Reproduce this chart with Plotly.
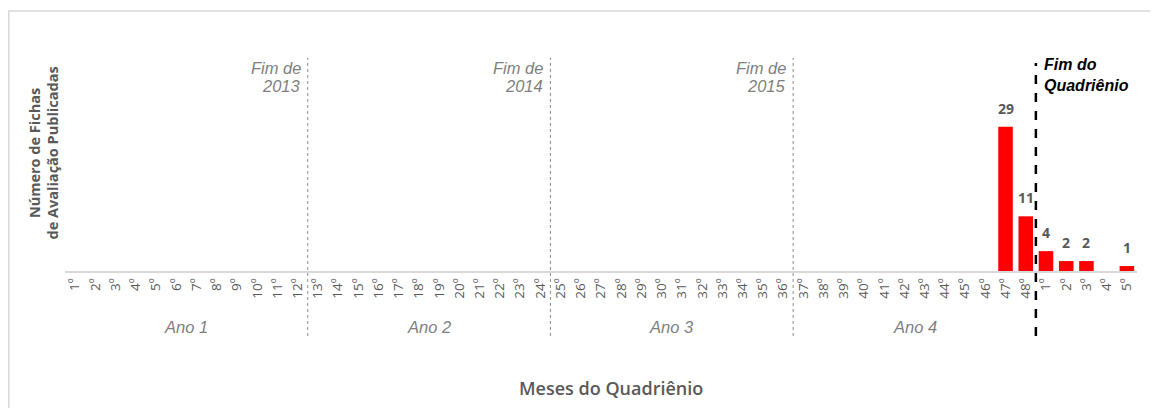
import plotly.graph_objects as go

months = [f"{i}º" for i in range(1, 49)] + [f"{i}º" for i in range(1, 6)]
values = [0] * 46 + [29, 11] + [4, 2, 2, 0, 1]
year_labels = ["Ano 1", "Ano 2", "Ano 3", "Ano 4"]
year_end_prefix = "Fim de"
year_ends = ["2013", "2014", "2015"]
end_label = "Fim do<br>Quadriênio"

xs = list(range(len(months)))

fig = go.Figure()
fig.add_trace(go.Bar(
    x=xs, y=values,
    marker=dict(color="#ff0000", line=dict(width=0)),
    width=0.72, cliponaxis=False,
))

OFF = 8  # page offset of the figure within the screenshot
W_L, W_R, T, B = 65 - OFF, 29, 58 - OFF, 408 - (271 - OFF)
pw = 1158 - W_L - W_R
ph = 408 - T - B

def px_x(px):
    return (px - OFF - W_L) / pw

def px_y(py):
    return (408 - B - (py - OFF)) / ph

shapes = []
shapes.append(dict(type="rect", xref="paper", yref="paper",
                   x0=px_x(8.8), x1=px_x(1190), y0=px_y(440), y1=px_y(11),
                   line=dict(color="#d9d9d9", width=1.5), layer="below"))
for sep in [11.5, 23.5, 35.5]:
    shapes.append(dict(type="line", xref="x", yref="paper", x0=sep, x1=sep,
                       y0=px_y(336), y1=px_y(58),
                       line=dict(color="#8c8c8c", width=1, dash="dot")))
shapes.append(dict(type="line", xref="x", yref="paper", x0=47.5, x1=47.5,
                   y0=px_y(336), y1=px_y(63),
                   line=dict(color="#000000", width=2.5, dash="dash")))

ann = []
# data labels
for xi, v in zip(xs, values):
    if v > 0:
        ann.append(dict(x=xi, y=v, xref="x", yref="y", text=str(v), showarrow=False,
                        xanchor="center", yanchor="bottom", yshift=7,
                        font=dict(family="Open Sans", size=14, color="#595959",
                                  weight="bold")))
for k, lbl in enumerate(year_labels):
    ann.append(dict(x=5.5 + 12 * k, y=px_y(327), xref="x", yref="paper",
                    text=lbl, showarrow=False, yanchor="middle", xanchor="center",
                    font=dict(family="Liberation Sans", size=16.5, color="#7f7f7f", style="italic")))
for k, lbl in enumerate(year_ends):
    for txt, yy in [(year_end_prefix, 68), (lbl, 86)]:
        ann.append(dict(x=11.5 + 12 * k, y=px_y(yy), xref="x", yref="paper",
                        text=txt, showarrow=False, xanchor="right", yanchor="middle",
                        xshift=-5,
                        font=dict(family="Liberation Sans", size=16.5, color="#7f7f7f",
                                  style="italic")))
ann.append(dict(x=47.5, y=px_y(54), xref="x", yref="paper", text=end_label,
                showarrow=False, xanchor="left", yanchor="top", xshift=6, align="left",
                font=dict(family="Liberation Sans", size=16, color="#000000",
                          style="italic", weight="bold")))
ann.append(dict(x=px_x(43.5), y=px_y(153), xref="paper", yref="paper",
                text="Número de Fichas<br>de Avaliação Publicadas", textangle=-90,
                showarrow=False, xanchor="center", yanchor="middle",
                font=dict(family="Open Sans", size=14.5, color="#595959", weight="bold")))
ann.append(dict(x=px_x(611), y=px_y(388), xref="paper", yref="paper",
                text="Meses do Quadriênio", showarrow=False,
                xanchor="center", yanchor="middle",
                font=dict(family="Open Sans", size=18, color="#595959", weight=600)))

fig.update_layout(
    width=1158, height=408, margin=dict(l=W_L, r=W_R, t=T, b=B),
    paper_bgcolor="white", plot_bgcolor="white", showlegend=False,
    shapes=shapes, annotations=ann,
    xaxis=dict(tickmode="array", tickvals=xs, ticktext=months, tickangle=-90,
               range=[-0.5, len(months) - 0.5], showgrid=False, zeroline=False,
               showline=True, linecolor="#d9d9d9", linewidth=1.5, ticks="",
               tickfont=dict(family="Open Sans", size=13.5, color="#595959")),
    yaxis=dict(range=[0, ph / 4.97], showgrid=False, zeroline=False,
               showticklabels=False, showline=False),
)

fig.write_html("out.html")
